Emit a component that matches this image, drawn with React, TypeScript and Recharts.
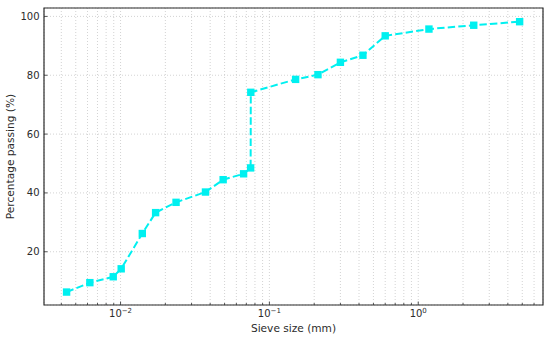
import {
  CartesianGrid,
  Line,
  LineChart,
  ReferenceArea,
  XAxis,
  YAxis,
} from "recharts"

const sieveSizes = [
  0.00434, 0.00622, 0.00893, 0.0101, 0.014, 0.0172, 0.0236, 0.0372, 0.0489,
  0.0671, 0.0748, 0.075, 0.15, 0.212, 0.3, 0.425, 0.6, 1.18, 2.36, 4.8,
]
const passing = [
  6.3, 9.5, 11.5, 14.2, 26.2, 33.3, 36.8, 40.3, 44.5, 46.5, 48.5, 74.2, 78.6,
  80.2, 84.4, 86.8, 93.4, 95.7, 97.0, 98.2,
]

const majorTicks = [0.01, 0.1, 1]
const majorLabels = ["\u22122", "\u22121", "0"]
const minorTicks = [
  0.004, 0.005, 0.006, 0.007, 0.008, 0.009,
  0.02, 0.03, 0.04, 0.05, 0.06, 0.07, 0.08, 0.09,
  0.2, 0.3, 0.4, 0.5, 0.6, 0.7, 0.8, 0.9,
  2, 3, 4, 5, 6,
]
const yTicks = [20, 40, 60, 80, 100]

const xDomain = [0.00306, 6.89]
const yDomain = [1.9, 102.86]

const data = sieveSizes.map((s, i) => ({ size: s, pass: passing[i] }))
const xTicks = [...minorTicks, ...majorTicks].sort((a, b) => a - b)

const font = "DejaVu Sans, sans-serif"
const ink = "#2b2b2b"
const cyan = "#00f0f0"

const XTick = (props: any) => {
  const { x, y, payload } = props
  const idx = majorTicks.findIndex((m) => Math.abs(m - payload.value) < 1e-9)
  const major = idx >= 0
  return (
    <g>
      <line x1={x} x2={x} y1={y} y2={y - (major ? 3.5 : 2)} stroke={ink} strokeWidth={0.8} />
      {major && (
        <text x={x} y={y + 11.8} textAnchor="middle" fontSize={10} fontFamily={font} fill={ink}>
          10
          <tspan dy={-4} fontSize={7}>
            {majorLabels[idx]}
          </tspan>
        </text>
      )}
    </g>
  )
}

const YTick = (props: any) => {
  const { x, y, payload } = props
  return (
    <g>
      <line x1={x} x2={x + 3.5} y1={y} y2={y} stroke={ink} strokeWidth={0.8} />
      <text x={x - 4.5} y={y} dy="0.35em" textAnchor="end" fontSize={10} fontFamily={font} fill={ink}>
        {payload.value}
      </text>
    </g>
  )
}

const SquareDot = (props: any) => {
  const { cx, cy } = props
  return <rect x={cx - 3.7} y={cy - 3.7} width={7.4} height={7.4} fill={cyan} />
}

const App = () => {
  return (
    <div style={{ position: "absolute", left: 0, top: 0, background: "#fff" }}>
      <LineChart
        width={550}
        height={339}
        data={data}
        margin={{ top: 8, right: 7, bottom: 0, left: 0 }}
      >
        <CartesianGrid stroke="#c8c8c8" strokeDasharray="1 2" strokeWidth={0.8} />
        <XAxis
          dataKey="size"
          type="number"
          scale="log"
          domain={xDomain}
          allowDataOverflow
          ticks={xTicks}
          interval={0}
          tick={<XTick />}
          tickLine={false}
          tickSize={0}
          tickMargin={0}
          axisLine={false}
          height={34}
          label={{
            value: "Sieve size (mm)",
            position: "insideBottom",
            offset: 7,
            fontSize: 10.6,
            fontFamily: font,
            fill: ink,
          }}
        />
        <YAxis
          type="number"
          domain={yDomain}
          allowDataOverflow
          ticks={yTicks}
          tick={<YTick />}
          tickLine={false}
          tickSize={0}
          tickMargin={0}
          axisLine={false}
          width={44}
          label={{
            value: "Percentage passing (%)",
            angle: -90,
            position: "insideLeft",
            offset: 10,
            style: { textAnchor: "middle" },
            fontSize: 10.6,
            fontFamily: font,
            fill: ink,
          }}
        />
        <ReferenceArea
          x1={xDomain[0]}
          x2={xDomain[1]}
          y1={yDomain[0]}
          y2={yDomain[1]}
          fill="none"
          stroke={ink}
          strokeWidth={1.2}
          ifOverflow="visible"
        />
        <Line
          type="linear"
          dataKey="pass"
          stroke={cyan}
          strokeWidth={2}
          strokeDasharray="7.4 3.2"
          dot={<SquareDot />}
          activeDot={false}
          isAnimationActive={false}
        />
      </LineChart>
    </div>
  )
}

export default App
